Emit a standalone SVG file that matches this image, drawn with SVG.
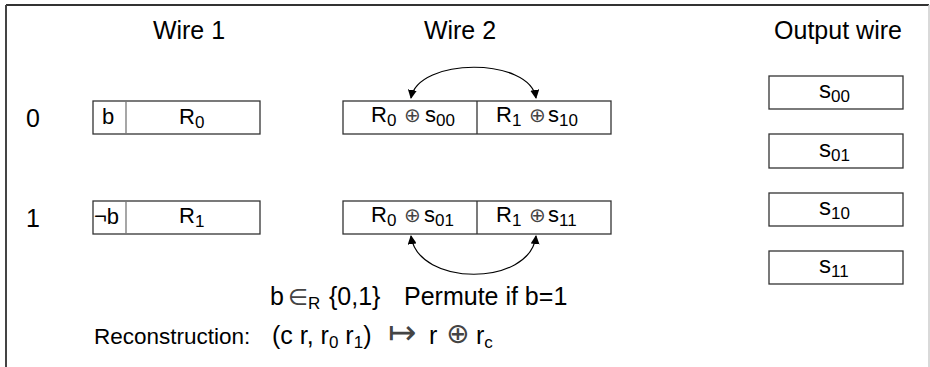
<svg xmlns="http://www.w3.org/2000/svg" width="930" height="367" viewBox="0 0 930 367">
<style>
text{font-family:"Liberation Sans",Arial,sans-serif;fill:#000}
.h{font-size:25px;text-anchor:middle}
.l{font-size:25px}
.bx{font-size:22px}
.ob{font-size:24px}
.sub{font-size:17px}
.sym{font-family:"DejaVu Sans",sans-serif;font-size:20px;fill:#444}
.sym2{font-family:"DejaVu Sans",sans-serif;font-size:28px;fill:#444}
.box{fill:#fff;stroke:#333;stroke-width:1.3}
.con{fill:none;stroke:#000;stroke-width:1.2}
</style>
<defs>
<marker id="ah" viewBox="0 0 10 10" refX="9" refY="5" markerWidth="9" markerHeight="9" markerUnits="userSpaceOnUse" orient="auto-start-reverse">
<path d="M0,0L10,5L0,10z" fill="#000"/>
</marker>
</defs>
<g id="frame">
<line x1="6" y1="5" x2="929" y2="5" stroke="#333" stroke-width="2"/>
<line x1="6" y1="5" x2="6" y2="367" stroke="#444" stroke-width="2"/>
<line x1="929" y1="5" x2="929" y2="367" stroke="#ccc" stroke-width="1.5"/>
</g>
<g id="headers">
<text class="h" x="189" y="39">Wire 1</text>
<text class="h" x="460" y="39">Wire 2</text>
<text class="h" x="838" y="39">Output wire</text>
<text class="l" x="26" y="127">0</text>
<text class="l" x="26" y="227">1</text>
</g>
<g id="w1-row0">
<rect class="box" x="93" y="101" width="167" height="33"/>
<line x1="126" y1="101" x2="126" y2="134" stroke="#777" stroke-width="1.3"/>
<text class="bx" x="102" y="124">b</text>
<text class="bx" x="179" y="124">R<tspan class="sub" dy="4">0</tspan></text>
</g>
<g id="w1-row1">
<rect class="box" x="93" y="201" width="167" height="33"/>
<line x1="126" y1="201" x2="126" y2="234" stroke="#777" stroke-width="1.3"/>
<text class="bx" x="94" y="224">¬b</text>
<text class="bx" x="179" y="223">R<tspan class="sub" dy="4">1</tspan></text>
</g>
<g id="w2-row0">
<rect class="box" x="343" y="101" width="268" height="33"/>
<line x1="477" y1="101" x2="477" y2="134" stroke="#333" stroke-width="1.3"/>
<text class="bx" x="371" y="122">R<tspan class="sub" dy="4">0</tspan><tspan class="sym" x="404" dy="-4">⊕</tspan><tspan x="425">s</tspan><tspan class="sub" dy="4">00</tspan></text>
<text class="bx" x="496" y="122">R<tspan class="sub" dy="4">1</tspan><tspan class="sym" x="529" dy="-4">⊕</tspan><tspan x="548">s</tspan><tspan class="sub" dy="4">10</tspan></text>
</g>
<g id="w2-row1">
<rect class="box" x="343" y="201" width="268" height="33"/>
<line x1="477" y1="201" x2="477" y2="234" stroke="#333" stroke-width="1.3"/>
<text class="bx" x="371" y="222">R<tspan class="sub" dy="4">0</tspan><tspan class="sym" x="404" dy="-4">⊕</tspan><tspan x="424">s</tspan><tspan class="sub" dy="4">01</tspan></text>
<text class="bx" x="496" y="222">R<tspan class="sub" dy="4">1</tspan><tspan class="sym" x="529" dy="-4">⊕</tspan><tspan x="548">s</tspan><tspan class="sub" dy="4">11</tspan></text>
</g>
<g id="out-s00">
<rect class="box" x="769" y="76" width="134" height="33"/>
<text class="ob" x="819" y="98">s<tspan class="sub" dy="4">00</tspan></text>
</g>
<g id="out-s01">
<rect class="box" x="769" y="134" width="134" height="34"/>
<text class="ob" x="819" y="157">s<tspan class="sub" dy="4">01</tspan></text>
</g>
<g id="out-s10">
<rect class="box" x="769" y="193" width="134" height="33"/>
<text class="ob" x="819" y="215">s<tspan class="sub" dy="4">10</tspan></text>
</g>
<g id="out-s11">
<rect class="box" x="769" y="251" width="134" height="33"/>
<text class="ob" x="819" y="273">s<tspan class="sub" dy="4">11</tspan></text>
</g>
<g id="connectors">
<path class="con" d="M411,98 C418,57 530,57 536,98" marker-start="url(#ah)" marker-end="url(#ah)"/>
<path class="con" d="M411,236 C418,287 530,287 536,236" marker-start="url(#ah)" marker-end="url(#ah)"/>
</g>
<g id="notes">
<text class="l" x="270" y="305">b<tspan class="sym" style="font-size:23px" x="288">∈</tspan><tspan class="sub" dy="4">R</tspan><tspan dy="-4" x="329">{0,1}</tspan><tspan x="404">Permute if b=1</tspan></text>
<text class="l" x="94" y="344"><tspan style="font-size:22.5px">Reconstruction:</tspan><tspan x="272">(c r, r</tspan><tspan class="sub" dy="4">0</tspan><tspan dy="-4"> r</tspan><tspan class="sub" dy="4">1</tspan><tspan dy="-4">)</tspan><tspan class="sym2" style="font-size:34px" x="388">↦</tspan><tspan x="429">r</tspan><tspan class="sym2" x="446" dy="-1">⊕</tspan><tspan x="476" dy="1">r</tspan><tspan class="sub" dy="4">c</tspan></text>
</g>
</svg>
